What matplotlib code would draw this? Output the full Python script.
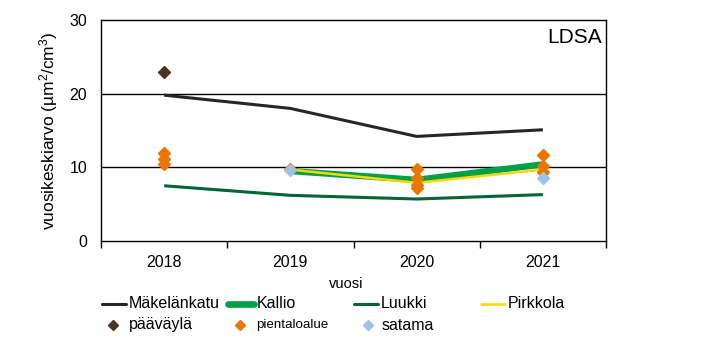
import matplotlib
matplotlib.use("Agg")
import matplotlib.pyplot as plt
from matplotlib.lines import Line2D
import numpy as np

plt.rcParams['font.family'] = ['Liberation Sans', 'DejaVu Sans']
plt.rcParams['mathtext.fontset'] = 'custom'
plt.rcParams['mathtext.rm'] = 'Liberation Sans'
plt.rcParams['mathtext.it'] = 'Liberation Sans'
plt.rcParams['mathtext.default'] = 'regular'

years = ["2018", "2019", "2020", "2021"]
makelankatu = [19.8, 18.0, 14.2, 15.1]
kallio = [None, 9.5, 8.3, 10.4]
luukki = [7.5, 6.2, 5.7, 6.3]
pirkkola = [None, 9.7, 7.9, 9.7]

paavayla_x = ["2018"]
paavayla_y = [23.0]
pientalo_x = ["2018", "2018", "2018", "2019", "2020", "2020", "2020", "2020", "2021", "2021", "2021"]
pientalo_y = [12.0, 11.2, 10.5, 9.8, 9.8, 8.5, 7.6, 7.2, 11.7, 10.2, 9.4]
satama_x = ["2019", "2021"]
satama_y = [9.7, 8.5]

c_mak = "#262626"
c_kal = "#00A04A"
c_luu = "#006633"
c_pir = "#FFD700"
c_paa = "#4D3321"
c_pie = "#EA7600"
c_sat = "#9DC3E6"

fig = plt.figure(figsize=(7.01, 3.55), dpi=100)
ax = fig.add_axes([0.1441, 0.3211, 0.7204, 0.6225])

xi = {y: i for i, y in enumerate(years)}
xs = np.arange(len(years))

def series(vals):
    x = [xs[i] for i, v in enumerate(vals) if v is not None]
    y = [v for v in vals if v is not None]
    return x, y

ax.plot(*series(makelankatu), color=c_mak, lw=2.2, zorder=3, solid_capstyle='butt')
ax.plot(*series(kallio), color=c_kal, lw=4.6, zorder=3, solid_capstyle='butt')
ax.plot(*series(luukki), color=c_luu, lw=2.2, zorder=3, solid_capstyle='butt')
ax.plot(*series(pirkkola), color=c_pir, lw=1.8, zorder=4, solid_capstyle='butt')

ax.plot([xi[x] for x in paavayla_x], paavayla_y, 'D', color=c_paa, ms=6, ls='none', zorder=5)
ax.plot([xi[x] for x in pientalo_x], pientalo_y, 'D', color=c_pie, ms=6, ls='none', zorder=5)
ax.plot([xi[x] for x in satama_x], satama_y, 'D', color=c_sat, ms=6, ls='none', zorder=6)

ax.set_xlim(-0.5, 3.5)
ax.set_ylim(0, 30)
ax.set_yticks([0, 10, 20, 30])
ax.set_xticks(xs)
ax.set_xticklabels(years)
ax.set_xticks(np.arange(-0.5, 3.6, 1.0), minor=True)
ax.tick_params(axis='x', which='major', length=0, labelsize=11.5, pad=10)
ax.tick_params(axis='x', which='minor', length=5, width=1, direction='out')
ax.tick_params(axis='y', length=0, labelsize=11.5, pad=10)
for y in [10, 20]:
    ax.axhline(y, color='black', lw=1, zorder=1)
for s in ax.spines.values():
    s.set_linewidth(1)
    s.set_color('black')

ax.set_ylabel("vuosikeskiarvo (µm$^2$/cm$^3$)", fontsize=12.5)
ax.yaxis.set_label_coords(-0.081, 0.5)
ax.set_xlabel("vuosi", fontsize=10.5)
ax.xaxis.set_label_coords((346 - 101) / 505.0, -0.165)
ax.text(0.992, 0.965, "LDSA", transform=ax.transAxes, ha='right', va='top', fontsize=15)

# manual legend
def fx(px):
    return px / 701.0
def fy(py):
    return 1 - py / 355.0

line_entries = [("Mäkelänkatu", c_mak, 2.2, 102, 129), ("Kallio", c_kal, 4.8, 228, 257),
                ("Luukki", c_luu, 2.2, 354, 381), ("Pirkkola", c_pir, 1.8, 481, 508)]
for label, col, lw, px, tx in line_entries:
    fig.add_artist(Line2D([fx(px), fx(tx - 3)], [fy(304), fy(304)], color=col, lw=lw,
                          solid_capstyle='round', transform=fig.transFigure))
    fig.text(fx(tx), fy(304), label, ha='left', va='center', fontsize=11.5)

mk_entries = [("pääväylä", c_paa, 113, 129, 11.5), ("pientaloalue", c_pie, 240, 256, 9.6),
              ("satama", c_sat, 368, 382, 11.5)]
for label, col, mx, tx, fs in mk_entries:
    fig.add_artist(Line2D([fx(mx)], [fy(325)], marker='D', color=col, ms=5, ls='none',
                          transform=fig.transFigure))
    fig.text(fx(tx), fy(325), label, ha='left', va='center', fontsize=fs)

fig.savefig("out.png", dpi=100)
